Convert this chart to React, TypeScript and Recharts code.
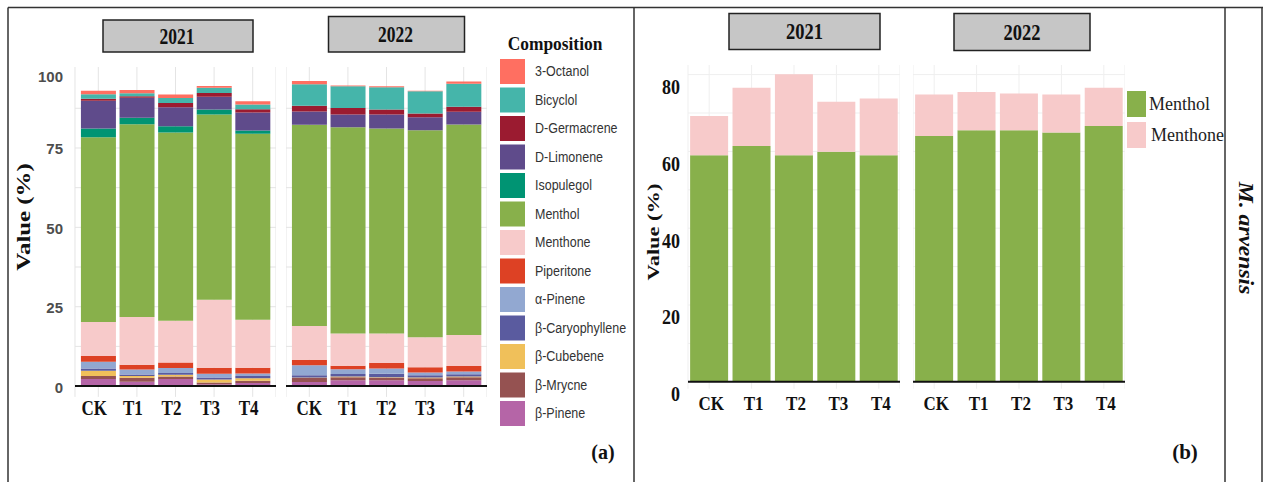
import React from 'react';
import { BarChart, Bar, XAxis, YAxis, CartesianGrid, ReferenceLine } from 'recharts';

const SERIF = '"Liberation Serif", "Times New Roman", serif';
const SANS = '"Liberation Sans", Arial, sans-serif';

// ---------- data ----------
const categories = ['CK', 'T1', 'T2', 'T3', 'T4'];
const years = ['2021', '2022'];

const compoundNames = [
  '3-Octanol', 'Bicyclol', 'D-Germacrene', 'D-Limonene', 'Isopulegol', 'Menthol', 'Menthone',
  'Piperitone', 'α-Pinene', 'β-Caryophyllene', 'β-Cubebene', 'β-Mrycne', 'β-Pinene',
];
const compoundColors = [
  '#ff6f61', '#45b5aa', '#9b1b30', '#5f4b8b', '#009473', '#88b04b', '#f7caca',
  '#dd4124', '#92a8d1', '#5a5b9f', '#f0c05a', '#955251', '#b565a7',
];

const octanol3_2021 = [1.1, 1.0, 1.1, 0.6, 1.0];
const octanol3_2022 = [1.0, 0.3, 0.3, 0.2, 0.7];
const bicyclol_2021 = [1.4, 1.0, 1.5, 1.6, 1.5];
const bicyclol_2022 = [6.8, 6.8, 7.0, 7.0, 7.2];
const dGermacrene_2021 = [0.6, 0.4, 1.4, 1.25, 1.0];
const dGermacrene_2022 = [1.8, 2.1, 1.6, 1.15, 1.6];
const dLimonene_2021 = [8.8, 6.3, 6.0, 4.0, 5.7];
const dLimonene_2022 = [4.2, 4.0, 4.4, 4.1, 4.0];
const isopulegol_2021 = [2.7, 2.1, 1.9, 1.6, 1.0];
const isopulegol_2022 = [0, 0, 0, 0, 0];
const menthol_2021 = [58.2, 60.7, 59.3, 58.3, 58.6];
const menthol_2022 = [63.4, 64.9, 64.5, 65.2, 66.3];
const menthone_2021 = [10.7, 15.0, 13.2, 21.4, 15.1];
const menthone_2022 = [10.6, 10.2, 9.3, 9.5, 9.8];
const piperitone_2021 = [1.8, 1.5, 1.7, 1.9, 1.8];
const piperitone_2022 = [1.7, 1.1, 1.8, 1.6, 1.7];
const aPinene_2021 = [2.2, 1.6, 1.6, 1.2, 0.8];
const aPinene_2022 = [3.2, 1.5, 1.6, 0.9, 0.9];
const bCaryophyllene_2021 = [0.7, 0.5, 0.5, 0.6, 0.7];
const bCaryophyllene_2022 = [0.7, 0.8, 1.1, 0.7, 0.7];
const bCubebene_2021 = [1.6, 0.5, 0.6, 1.0, 0.8];
const bCubebene_2022 = [0.1, 0.2, 0.2, 0.2, 0.2];
const bMrycne_2021 = [1.0, 1.25, 0.8, 0.5, 0.7];
const bMrycne_2022 = [1.35, 1.0, 0.8, 0.9, 1.0];
const bPinene_2021 = [2.2, 1.4, 2.2, 0.6, 1.0];
const bPinene_2022 = [1.25, 1.8, 1.8, 1.6, 1.8];

// M. arvensis (panel b)
const arvSeries = ['Menthol', 'Menthone'];
const arvColors = ['#88b04b', '#f7caca'];
const arvMenthol_2021 = [59.0, 61.4, 59.0, 59.9, 59.0];
const arvMenthone_2021 = [10.2, 15.2, 21.1, 13.0, 14.8];
const arvMenthol_2022 = [64.0, 65.5, 65.5, 64.9, 66.6];
const arvMenthone_2022 = [10.8, 10.0, 9.6, 9.9, 10.0];

const leftTicks = [0, 25, 50, 75, 100];
const leftGrid = [0, 12.5, 25, 37.5, 50, 62.5, 75, 87.5];
const rightTicks = [0, 20, 40, 60, 80];
const rightGrid = [0, 10, 20, 30, 40, 50, 60, 70, 80];

const series2021 = [octanol3_2021, bicyclol_2021, dGermacrene_2021, dLimonene_2021, isopulegol_2021, menthol_2021, menthone_2021, piperitone_2021, aPinene_2021, bCaryophyllene_2021, bCubebene_2021, bMrycne_2021, bPinene_2021];
const series2022 = [octanol3_2022, bicyclol_2022, dGermacrene_2022, dLimonene_2022, isopulegol_2022, menthol_2022, menthone_2022, piperitone_2022, aPinene_2022, bCaryophyllene_2022, bCubebene_2022, bMrycne_2022, bPinene_2022];

const buildRows = (series: number[][]) =>
  categories.map((c, i) => {
    const r: any = { cat: c };
    series.forEach((s, j) => { r['k' + j] = s[i]; });
    return r;
  });

const compRows = [buildRows(series2021), buildRows(series2022)];
const arvRows = [
  buildRows([arvMenthol_2021, arvMenthone_2021]),
  buildRows([arvMenthol_2022, arvMenthone_2022]),
];

// ---------- helpers ----------
const SText = ({ x, y, size, weight = 'bold', family = SERIF, sx = 1, sy = 1, rotate = 0, anchor = 'middle', fill = '#111', italic = false, children }: any) => (
  <text
    transform={`translate(${x},${y}) rotate(${rotate}) scale(${sx},${sy})`}
    x={0}
    y={0}
    textAnchor={anchor}
    dominantBaseline="central"
    fontSize={size}
    fontWeight={weight}
    fontFamily={family}
    fontStyle={italic ? 'italic' : 'normal'}
    fill={fill}
  >
    {children}
  </text>
);

const makeXTick = (dx: number, dy: number, size: number, sy: number) => (props: any) => {
  const { x, y, payload } = props;
  return (
    <g>
      <SText x={x + dx} y={y + dy} size={size} sy={sy}>{payload.value}</SText>
    </g>
  );
};

const leftYTick = (props: any) => {
  const { x, y, payload } = props;
  return (
    <g>
      <SText x={x - 12} y={y + 1} size={15} family={SANS} anchor="end" fill="#4d4d4d">{payload.value}</SText>
    </g>
  );
};

const rightYTick = (props: any) => {
  const { x, y, payload } = props;
  return (
    <g>
      <SText x={x - 8} y={y + 12.5} size={18} sy={1.15} anchor="end">{payload.value}</SText>
    </g>
  );
};

type FacetProps = {
  rows: any[];
  keys: string[];
  colors: string[];
  plotLeft: number;
  plotTop: number;
  plotW: number;
  plotH: number;
  showY: boolean;
  yW: number;
  domain: [number, number];
  ticks: number[];
  grid: number[];
  gridColor: string;
  pad: number;
  xTick: any;
  yTick: any;
};

const Facet = ({ rows, keys, colors, plotLeft, plotTop, plotW, plotH, showY, yW, domain, ticks, grid, gridColor, pad, xTick, yTick }: FacetProps) => {
  const axisW = showY ? yW : 0;
  const xH = 45;
  return (
    <div style={{ position: 'absolute', left: plotLeft - axisW, top: plotTop }}>
      <BarChart
        width={plotW + axisW}
        height={plotH + xH}
        data={rows}
        margin={{ top: 0, right: 0, bottom: 0, left: 0 }}
        barCategoryGap="5%"
      >
        <CartesianGrid stroke={gridColor} strokeWidth={1} horizontalValues={grid} />
        <XAxis
          dataKey="cat"
          height={xH}
          axisLine={false}
          tickLine={false}
          tickSize={0}
          tickMargin={0}
          padding={{ left: pad, right: pad }}
          tick={xTick}
          interval={0}
        />
        <YAxis
          type="number"
          domain={domain}
          ticks={ticks}
          hide={!showY}
          width={yW}
          axisLine={false}
          tickLine={false}
          tickSize={0}
          tickMargin={0}
          tick={yTick}
          allowDataOverflow
        />
        {keys.map((k, j) => (
          <Bar key={k} dataKey={k} stackId="s" fill={colors[j]} isAnimationActive={false} />
        ))}
        <ReferenceLine y={0} stroke="#111" strokeWidth={2} />
      </BarChart>
    </div>
  );
};

// ---------- layout ----------
const L_Y0 = 386;
const L_K = 3.175;
const L_DOMAIN: [number, number] = [-3.4, 100.5];
const L_TOP = L_Y0 - L_DOMAIN[1] * L_K;
const L_H = (L_DOMAIN[1] - L_DOMAIN[0]) * L_K;

const R_Y0 = 381.7;
const R_K = 3.84;
const R_DOMAIN: [number, number] = [-1.8, 82.5];
const R_TOP = R_Y0 - R_DOMAIN[1] * R_K;
const R_H = (R_DOMAIN[1] - R_DOMAIN[0]) * R_K;

const compKeysBottomUp = compoundNames.map((_, j) => 'k' + j).reverse();
const compColorsBottomUp = compoundColors.slice().reverse();

export default function App() {
  const leftFacetX = [75, 286];
  const rightFacetX = [688, 913];
  const leftStrips = [
    { x: 103, y: 20, w: 150, h: 32 },
    { x: 328.5, y: 16.5, w: 136, h: 35.5 },
  ];
  const rightStrips = [
    { x: 729, y: 13.5, w: 151, h: 36 },
    { x: 954, y: 13.5, w: 136, h: 37 },
  ];
  return (
    <div style={{ position: 'absolute', left: 0, top: 0, width: 1265, height: 482, background: '#fff', overflow: 'hidden' }}>
      {years.map((yr, i) => (
        <Facet
          key={'L' + yr}
          rows={compRows[i]}
          keys={compKeysBottomUp}
          colors={compColorsBottomUp}
          plotLeft={leftFacetX[i]}
          plotTop={L_TOP}
          plotW={201}
          plotH={L_H}
          showY={i === 0}
          yW={60}
          domain={L_DOMAIN}
          ticks={leftTicks}
          grid={leftGrid}
          gridColor="#e4e4e4"
          pad={4}
          xTick={makeXTick(i === 0 ? -4 : 0, 11.5, 17, 1.2)}
          yTick={leftYTick}
        />
      ))}
      {years.map((yr, i) => (
        <Facet
          key={'R' + yr}
          rows={arvRows[i]}
          keys={['k0', 'k1']}
          colors={arvColors}
          plotLeft={rightFacetX[i]}
          plotTop={R_TOP}
          plotW={212}
          plotH={R_H}
          showY={i === 0}
          yW={50}
          domain={R_DOMAIN}
          ticks={rightTicks}
          grid={rightGrid}
          gridColor="#efefef"
          pad={0}
          xTick={makeXTick(2, 15.4, 17, 1.05)}
          yTick={rightYTick}
        />
      ))}

      <svg width={1265} height={482} style={{ position: 'absolute', left: 0, top: 0, pointerEvents: 'none' }}>
        <defs>
          <clipPath id="legclip">
            <rect x={0} y={0} width={633} height={482} />
          </clipPath>
        </defs>
        {/* frame */}
        <g stroke="#333" strokeWidth={1.5} fill="none">
          <line x1={8} y1={7.5} x2={1263} y2={7.5} />
          <line x1={8} y1={7.5} x2={8} y2={482} />
          <line x1={634} y1={7.5} x2={634} y2={482} />
          <line x1={1225} y1={7.5} x2={1225} y2={482} />
          <line x1={1262} y1={7.5} x2={1262} y2={482} />
        </g>

        {/* strips */}
        {leftStrips.map((s, i) => (
          <g key={'ls' + i}>
            <rect x={s.x} y={s.y} width={s.w} height={s.h} fill="#c6c6c6" stroke="#222" strokeWidth={1.5} />
            <SText x={s.x + s.w / 2 - 1} y={s.y + s.h / 2} size={17.5} sy={1.3}>{years[i]}</SText>
          </g>
        ))}
        {rightStrips.map((s, i) => (
          <g key={'rs' + i}>
            <rect x={s.x} y={s.y} width={s.w} height={s.h} fill="#c6c6c6" stroke="#222" strokeWidth={1.5} />
            <SText x={s.x + s.w / 2} y={s.y + s.h / 2} size={18.5} sy={1.28}>{years[i]}</SText>
          </g>
        ))}

        {/* axis titles */}
        <SText x={24} y={217} size={18} rotate={-90} sx={1.38}>Value (%)</SText>
        <SText x={654} y={232} size={16} rotate={-90} sx={1.4}>Value (%)</SText>

        {/* legend (a) */}
        <SText x={555} y={44} size={17.4} sy={1.1}>Composition</SText>
        <g clipPath="url(#legclip)">
          {compoundNames.map((n, i) => (
            <g key={n}>
              <rect x={500} y={59 + i * 28.5} width={25} height={25} fill={compoundColors[i]} />
              <SText x={535} y={71.5 + i * 28.5} size={12.5} weight="normal" family={SANS} anchor="start" fill="#333" sy={1.1}>{n}</SText>
            </g>
          ))}
        </g>

        {/* legend (b) */}
        {arvSeries.map((n, i) => (
          <g key={n}>
            <rect x={1127} y={91 + i * 31} width={19} height={26} fill={arvColors[i]} />
            <SText x={1149 + i * 2} y={104 + i * 31} size={18} weight="normal" anchor="start" fill="#222">{n}</SText>
          </g>
        ))}

        {/* panel tags */}
        <SText x={603} y={452} size={20}>(a)</SText>
        <SText x={1185} y={452} size={21}>(b)</SText>
        <SText x={1245} y={238} size={20} rotate={90} sx={1.18} italic>M. arvensis</SText>
      </svg>
    </div>
  );
}
